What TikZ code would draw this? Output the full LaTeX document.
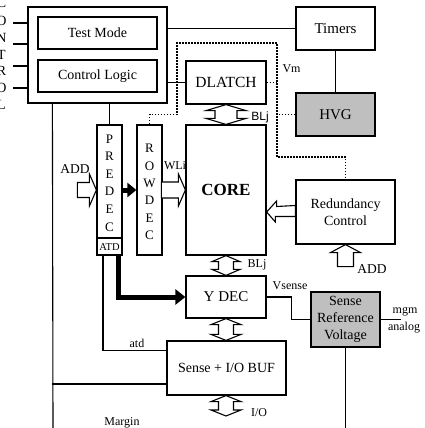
\documentclass[tikz,border=0pt]{standalone}
\usepackage{fontspec}
\setmainfont{Liberation Serif}
\newfontfamily\lsans{Liberation Sans}
\usetikzlibrary{calc,arrows.meta}
\newcommand\dblarr[4]{%
  \draw[hollow] (#1) -- ++(#3,6) -- ++(#4-#3,0) -- ($(#2)+(#4,-6)$) -- ++(#3-#4,0) -- (#2)
    -- ++(-#3,-6) -- ++(#3-#4,0) -- ($(#1)+(-#4,6)$) -- ++(#4-#3,0) -- cycle;}
\begin{document}
\begin{tikzpicture}[x=1pt,y=-1pt, line width=1.1pt,
  box/.style={draw, line width=1.2pt, inner sep=0pt, font=\fontsize{14}{17}\selectfont, align=center},
  grey/.style={box, fill=gray!50},
  lbl/.style={inner sep=0pt, font=\fontsize{12}{14}\selectfont},
  hollow/.style={draw, fill=white, line width=1.1pt, line join=miter},
  dots/.style={line width=1.5pt, dash pattern=on 1.5pt off 1.5pt},
  thick arrow/.style={line width=5pt, -{Triangle[length=10pt,width=15pt]}}
  ]
\useasboundingbox (0,0) rectangle (424,428);
% boxes
\node[box, minimum width=139pt, minimum height=96pt] (ctrl) at (97.5,55) {};
\node[box, minimum width=119pt, minimum height=32pt] (tm) at (97.5,33) {Test Mode};
\node[box, minimum width=119pt, minimum height=32pt] (clog) at (97.5,76) {Control Logic};
\node[box, minimum width=79pt, minimum height=43pt, font=\fontsize{15}{17}\selectfont] (timers) at (335.5,28.5) {Timers};
\node[grey, minimum width=79pt, minimum height=43pt, font=\fontsize{15}{17}\selectfont] (hvg) at (335.5,114.5) {HVG};
\node[box, minimum width=80pt, minimum height=43pt, font=\fontsize{15.5}{17}\selectfont] (dlatch) at (226,82.5) {DLATCH};
\node[box, minimum width=80pt, minimum height=130pt, font=\fontsize{17}{17}\selectfont\bfseries] (core) at (226,190) {CORE};
\node[box, minimum width=25pt, minimum height=130pt] (predec) at (109.5,190) {};
\node[box, minimum width=25pt, minimum height=130pt] (rowdec) at (149.5,190) {};
\node[box, minimum width=99pt, minimum height=64pt] (red) at (345.5,212) {Redundancy\\Control};
\node[box, minimum width=80pt, minimum height=42pt, font=\fontsize{15}{17}\selectfont] (ydec) at (226,297) {Y DEC};
\node[box, minimum width=119pt, minimum height=54pt] (sense) at (226.5,368) {Sense + I/O BUF};
\node[grey, minimum width=69pt, minimum height=55pt] (srv) at (345.5,319.5) {Sense\\Reference\\Voltage};
% predec / rowdec texts
\node[inner sep=0pt, align=center, font=\fontsize{13}{17.6}\selectfont] (pdtext) at (109.5,183) {P\\R\\E\\D\\E\\C};
\draw[line width=1.2pt] (predec.west |- 0,238) -- (predec.east |- 0,238);
\node[inner sep=0pt, font=\fontsize{10.5}{12}\selectfont] (atd) at (109.5,247) {ATD};
\node[inner sep=0pt, align=center, font=\fontsize{13}{17.4}\selectfont] (rdtext) at (149.5,192) {R\\O\\W\\D\\E\\C};
% CONTROL letters
\foreach \ch/\yy [count=\i] in {C/3,O/21,N/38,T/55,R/71,O/88,L/105}
  \node[inner sep=0pt, font=\fontsize{14}{14}\selectfont] (ctl\i) at (1.5,\yy) {\ch};
\foreach \yy in {23,44,66,88}
  \draw (13,\yy) -- (ctrl.west |- 0,\yy);
% solid connectors
\draw (ctrl.east |- timers.west) -- (timers.west);
\draw (ctrl.east |- dlatch.west) -- (dlatch.west);
\draw (timers.south) -- (hvg.north);
\draw (predec.north |- ctrl.south) -- (predec.north);
\coordinate (mtop) at ($(ctrl.south west)+(25,0)$);
\coordinate (mbot) at (53,430);
\draw (mtop) -- (mbot);
\draw (mtop |- 0,384) -- (sense.west |- 0,384);
\draw ($(predec.south)+(-6.5,0)$) |- ($(sense.north west)+(0,10)$);
\draw (ydec.east) -- ++(25,0) |- (srv.west);
\coordinate (mgm) at ($(srv.east)+(20,0)$);
\draw (srv.east) -- (mgm);
\coordinate (sbot) at (345.5,430);
\draw (srv.south) -- (sbot);
% dotted
\draw[dots] (rowdec.north) -- ++(0,-10) -| (177,43) -| (277,157) -| (red.north);
\draw[dots] (dlatch.east) -- (dlatch.east -| 277,0);
\draw[dots] (hvg.west) -- (hvg.west -| 277,0);
% thick black arrows
\draw[thick arrow, -{Triangle[length=9pt,width=14pt]}] (predec.east) -- (rowdec.west);
\draw[thick arrow] ($(predec.south)+(9,0)$) |- (ydec.west);
% hollow arrows
\draw[hollow] (predec.west) -- ++(-7,-16) -- ++(0,8.5) -- ++(-12,0) -- ++(0,15) -- ++(12,0) -- ++(0,8.5) -- cycle;
\draw[hollow] (core.west) -- ++(-7,-16) -- ++(0,8) -- ++(-17,0) -- ++(0,16) -- ++(17,0) -- ++(0,8) -- cycle;
\draw[hollow] (red.west -| core.east) -- ++(10,-11) -- ++(0,5.5) -- (red.west |- 0,205.5) -- (red.west |- 0,216.5) -- ++(-20,0) -- ++(0,5.5) -- cycle;
\draw[hollow] (red.south) -- ++(15,8) -- ++(-7,0) -- ++(0,14) -- ++(-16,0) -- ++(0,-14) -- ++(-7,0) -- cycle;
% double arrows
\dblarr{dlatch.south}{core.north}{20}{11}
\dblarr{core.south}{ydec.north}{14}{7.5}
\dblarr{ydec.south}{$(sense.north)+(-0.5,0)$}{15}{7.5}
\coordinate (iob) at (226,416);
\dblarr{$(sense.south)+(-0.5,0)$}{iob}{15}{7.5}
% labels
\node[lbl] (vm) at (291.5,69) {Vm};
\node[lbl, font=\lsans\fontsize{12}{14}\selectfont] (blj1) at (260,117) {BLj};
\node[lbl] (blj2) at (257,265) {BLj};
\node[lbl] (io) at (259,413) {I/O};
\node[lbl] (wli) at (175,166) {WLi};
\node[lbl, font=\fontsize{13.5}{14}\selectfont] (add1) at (75,169) {ADD};
\node[lbl, font=\fontsize{13.5}{14}\selectfont] (add2) at (372,269) {ADD};
\node[lbl] (atdl) at (137,343) {atd};
\node[lbl] (margin) at (122,423) {Margin};
\node[lbl] (vsense) at (290,286) {Vsense};
\node[lbl] (mgmt) at (405,312) {mgm};
\node[lbl] (analog) at (404,328) {analog};
\end{tikzpicture}
\end{document}
